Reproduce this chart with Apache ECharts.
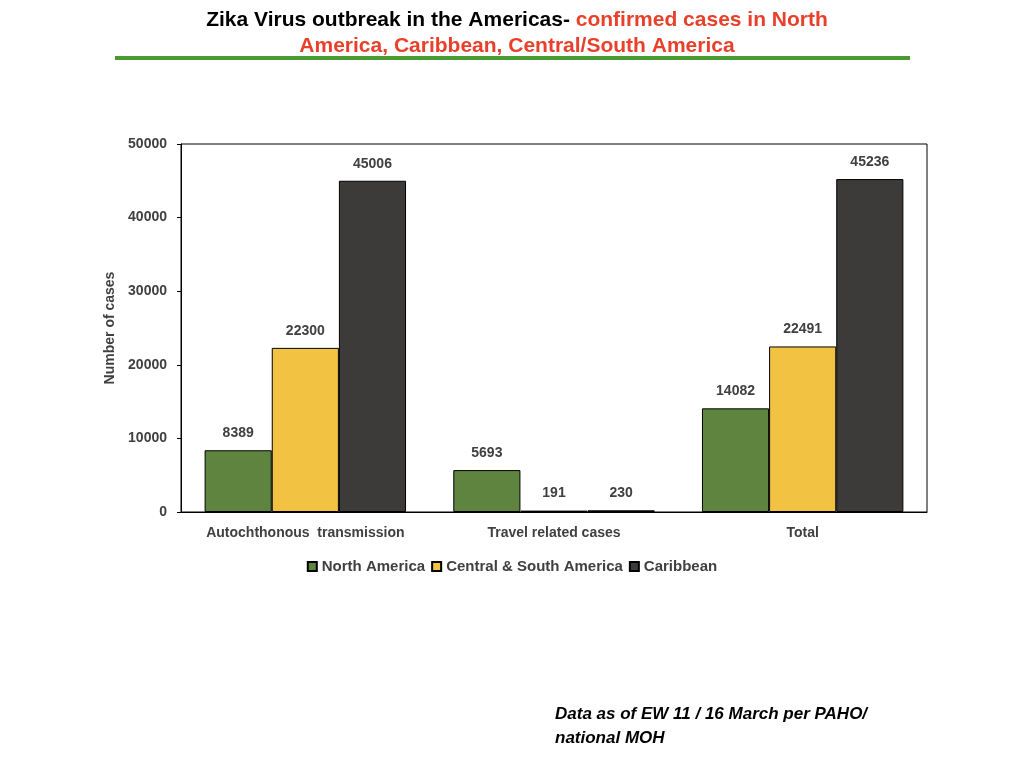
<!DOCTYPE html>
<html><head><meta charset="utf-8">
<script src="https://cdn.jsdelivr.net/npm/echarts@6/dist/echarts.min.js"></script>
<style>html,body{margin:0;padding:0;background:#fff}#c{width:1024px;height:768px}</style>
</head><body><div id="c"></div>
<script>
const categories = ['Autochthonous  transmission', 'Travel related cases', 'Total'];
const northAmerica = [8389, 5693, 14082];
const centralSouth = [22300, 191, 22491];
const caribbean = [45006, 230, 45236];
const seriesNames = ['North America', 'Central & South America', 'Caribbean'];
const colors = ['#5e8440', '#f2c242', '#3d3a3a'];

const chart = echarts.init(document.getElementById('c'));
const font = 'Liberation Sans, Arial, sans-serif';
const label = { show: true, position: 'top', distance: 10, color: '#404040', fontWeight: 'bold', fontSize: 14, fontFamily: font };
chart.setOption({
  animation: false,
  textStyle: { fontFamily: font },
  title: {
    text: '{b|Zika Virus outbreak in the Americas- }{r|confirmed cases in North}\n{r|America, Caribbean, Central/South America}',
    left: 512, textAlign: 'center', top: 2,
    textStyle: { rich: {
      b: { color: '#000', fontWeight: 'bold', fontSize: 21, fontFamily: font, lineHeight: 26 },
      r: { color: '#e8402a', fontWeight: 'bold', fontSize: 21, fontFamily: font, lineHeight: 26 }
    } }
  },
  graphic: [
    { type: 'line', shape: { x1: 115, y1: 58, x2: 910, y2: 58 }, style: { stroke: '#4a9a32', lineWidth: 4 } },
    { type: 'text', left: 555, top: 702, style: { text: 'Data as of EW 11 / 16 March per PAHO/\nnational MOH', font: 'italic bold 17px ' + font, fill: '#000', lineHeight: 24 } }
  ],
  legend: {
    data: seriesNames, bottom: 189, left: 'center', itemWidth: 9, itemHeight: 9, itemGap: 6,
    textStyle: { fontSize: 15, color: '#404040', fontWeight: 'bold', fontFamily: font },
    icon: 'rect'
  },
  grid: { left: 181, right: 97, top: 144, bottom: 256, show: true, borderColor: '#000', borderWidth: 1 },
  xAxis: {
    type: 'category', data: categories,
    axisLine: { lineStyle: { color: '#000' } }, axisTick: { show: false },
    axisLabel: { color: '#404040', fontSize: 14, fontWeight: 'bold', margin: 14, interval: 0 }
  },
  yAxis: {
    type: 'value', min: 0, max: 50000, interval: 10000,
    name: 'Number of cases', nameLocation: 'middle', nameGap: 62,
    nameTextStyle: { color: '#404040', fontSize: 14, fontWeight: 'bold' },
    splitLine: { show: false },
    axisLine: { show: true, lineStyle: { color: '#000' } },
    axisTick: { show: true, inside: false, length: 4, lineStyle: { color: '#000' } },
    axisLabel: { color: '#404040', fontSize: 14, fontWeight: 'bold', margin: 14, formatter: v => String(v) }
  },
  series: [northAmerica, centralSouth, caribbean].map((d, i) => ({
    name: seriesNames[i], type: 'bar', data: d, barGap: 0, barCategoryGap: '19%',
    itemStyle: { color: colors[i], borderColor: '#000', borderWidth: 1 },
    label: label
  }))
});
</script></body></html>
